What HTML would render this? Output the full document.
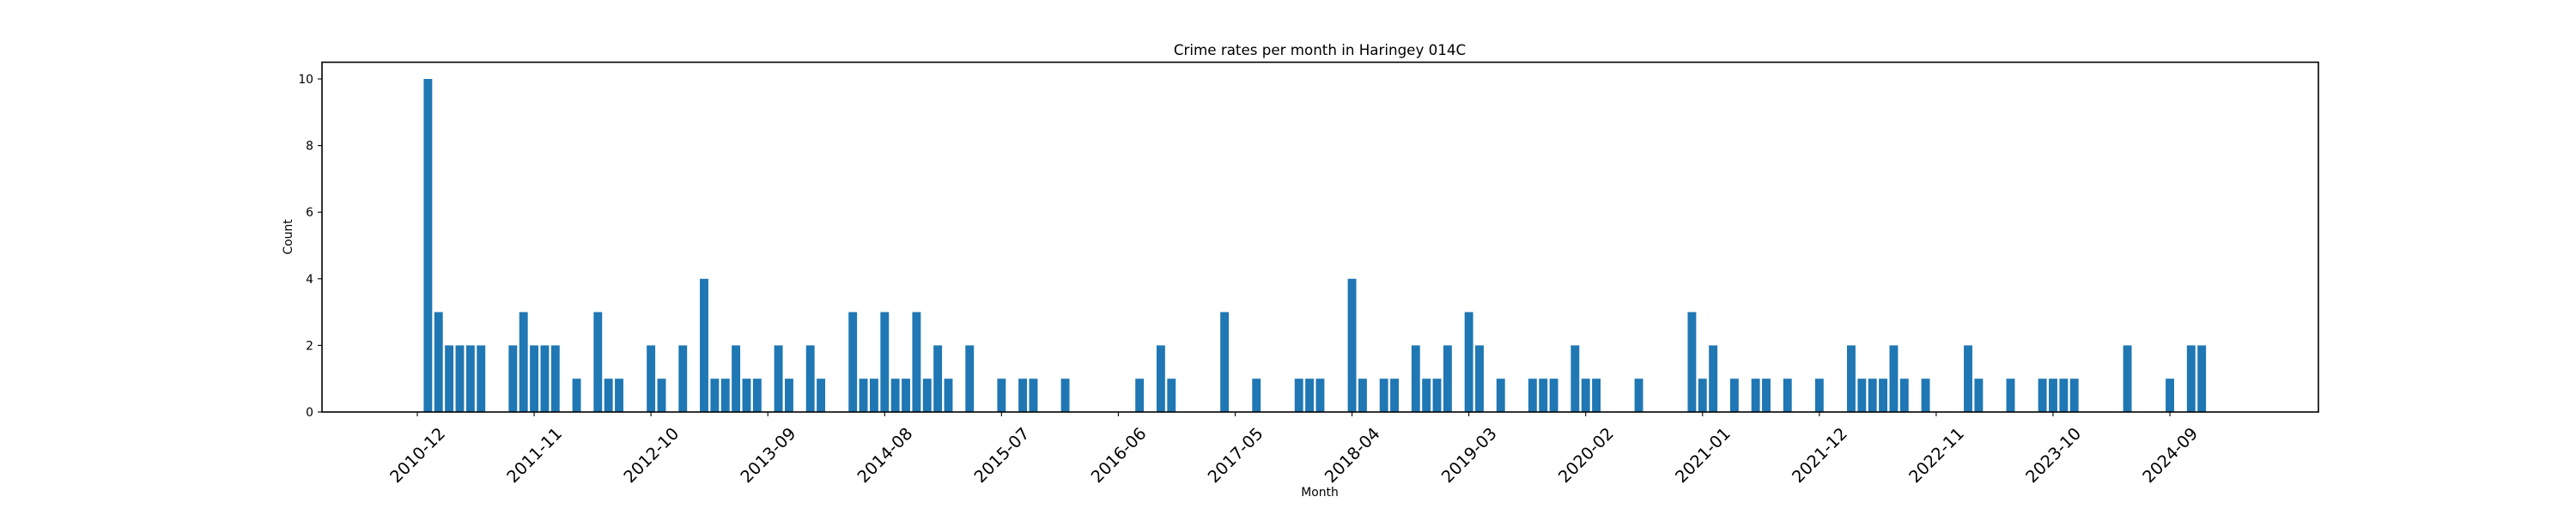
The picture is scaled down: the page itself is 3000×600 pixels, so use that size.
<!DOCTYPE html>
<html><head><meta charset="utf-8"><style>
html,body{margin:0;padding:0;background:#fff;}
svg{display:block;font-family:"DejaVu Sans","Liberation Sans",sans-serif;}
</style></head><body>
<svg id="chart" width="3000" height="600" viewBox="0 0 3000 600">
<rect x="0" y="0" width="3000" height="600" fill="#fff"/>
<text x="1537" y="64" font-size="16.7" text-anchor="middle" fill="#000">Crime rates per month in Haringey 014C</text>
<g id="bars"></g>
<g id="yaxis"></g>
<g id="xaxis"></g>
<rect x="375" y="72.5" width="2325" height="407.5" fill="none" stroke="#000" stroke-width="1.6"/>
<text x="0" y="0" transform="translate(340,276) rotate(-90)" font-size="13.9" text-anchor="middle" fill="#000">Count</text>
<text x="1537" y="578" font-size="13.9" text-anchor="middle" fill="#000">Month</text>
</svg>
<script>
const months = ["2011-01","2011-02","2011-03","2011-04","2011-05","2011-06","2011-09","2011-10","2011-11","2011-12","2012-01","2012-03","2012-05","2012-06","2012-07","2012-10","2012-11","2013-01","2013-03","2013-04","2013-05","2013-06","2013-07","2013-08","2013-10","2013-11","2014-01","2014-02","2014-05","2014-06","2014-07","2014-08","2014-09","2014-10","2014-11","2014-12","2015-01","2015-02","2015-04","2015-07","2015-09","2015-10","2016-01","2016-08","2016-10","2016-11","2017-04","2017-07","2017-11","2017-12","2018-01","2018-04","2018-05","2018-07","2018-08","2018-10","2018-11","2018-12","2019-01","2019-03","2019-04","2019-06","2019-09","2019-10","2019-11","2020-01","2020-02","2020-03","2020-07","2020-12","2021-01","2021-02","2021-04","2021-06","2021-07","2021-09","2021-12","2022-03","2022-04","2022-05","2022-06","2022-07","2022-08","2022-10","2023-02","2023-03","2023-06","2023-09","2023-10","2023-11","2023-12","2024-05","2024-09","2024-11","2024-12"];
const counts = [10,3,2,2,2,2,2,3,2,2,2,1,3,1,1,2,1,2,4,1,1,2,1,1,2,1,2,1,3,1,1,3,1,1,3,1,2,1,2,1,1,1,1,1,2,1,3,1,1,1,1,4,1,1,1,2,1,1,2,3,2,1,1,1,1,2,1,1,1,3,1,2,1,1,1,1,1,2,1,1,1,2,1,1,2,1,1,1,1,1,1,2,1,2,2];
const tickLabels = ["2010-12","2011-11","2012-10","2013-09","2014-08","2015-07","2016-06","2017-05","2018-04","2019-03","2020-02","2021-01","2021-12","2022-11","2023-10","2024-09"];
const yTicks = [0,2,4,6,8,10];

const NS = "http://www.w3.org/2000/svg";
const X0 = 486, PXM = 12.37, Y0 = 480, PXU = 38.8;
function monthIdx(s){const p=s.split("-");return (parseInt(p[0])-2010)*12+parseInt(p[1])-12;}
function xScale(s){return X0+PXM*monthIdx(s);}
function yScale(v){return Y0-v*PXU;}

const bars=document.getElementById("bars");
months.forEach((m,i)=>{
  const r=document.createElementNS(NS,"rect");
  const x=xScale(m), w=PXM*0.8;
  r.setAttribute("x",x-w/2);
  r.setAttribute("y",yScale(counts[i]));
  r.setAttribute("width",w);
  r.setAttribute("height",Y0-yScale(counts[i]));
  r.setAttribute("fill","#1f77b4");
  
  
  bars.appendChild(r);
});

const ya=document.getElementById("yaxis");
yTicks.forEach(v=>{
  const y=yScale(v);
  const l=document.createElementNS(NS,"line");
  l.setAttribute("x1",370);l.setAttribute("x2",375);l.setAttribute("y1",y);l.setAttribute("y2",y);
  l.setAttribute("stroke","#000");l.setAttribute("stroke-width","1.1");
  
  
  ya.appendChild(l);
  const t=document.createElementNS(NS,"text");
  t.setAttribute("x",365);t.setAttribute("y",y+5);
  t.setAttribute("font-size","13.9");t.setAttribute("text-anchor","end");
  t.textContent=v;
  
  
  ya.appendChild(t);
});

const xa=document.getElementById("xaxis");
tickLabels.forEach(s=>{
  const x=xScale(s);
  const l=document.createElementNS(NS,"line");
  l.setAttribute("x1",x);l.setAttribute("x2",x);l.setAttribute("y1",480);l.setAttribute("y2",485);
  l.setAttribute("stroke","#000");l.setAttribute("stroke-width","1.1");
  
  
  xa.appendChild(l);
  const t=document.createElementNS(NS,"text");
  t.setAttribute("x",0);t.setAttribute("y",7);
  t.setAttribute("font-size","19.4");t.setAttribute("text-anchor","middle");
  t.setAttribute("transform","translate("+x+",530) rotate(-45)");
  t.textContent=s;
  
  
  xa.appendChild(t);
});
</script>
</body></html>
